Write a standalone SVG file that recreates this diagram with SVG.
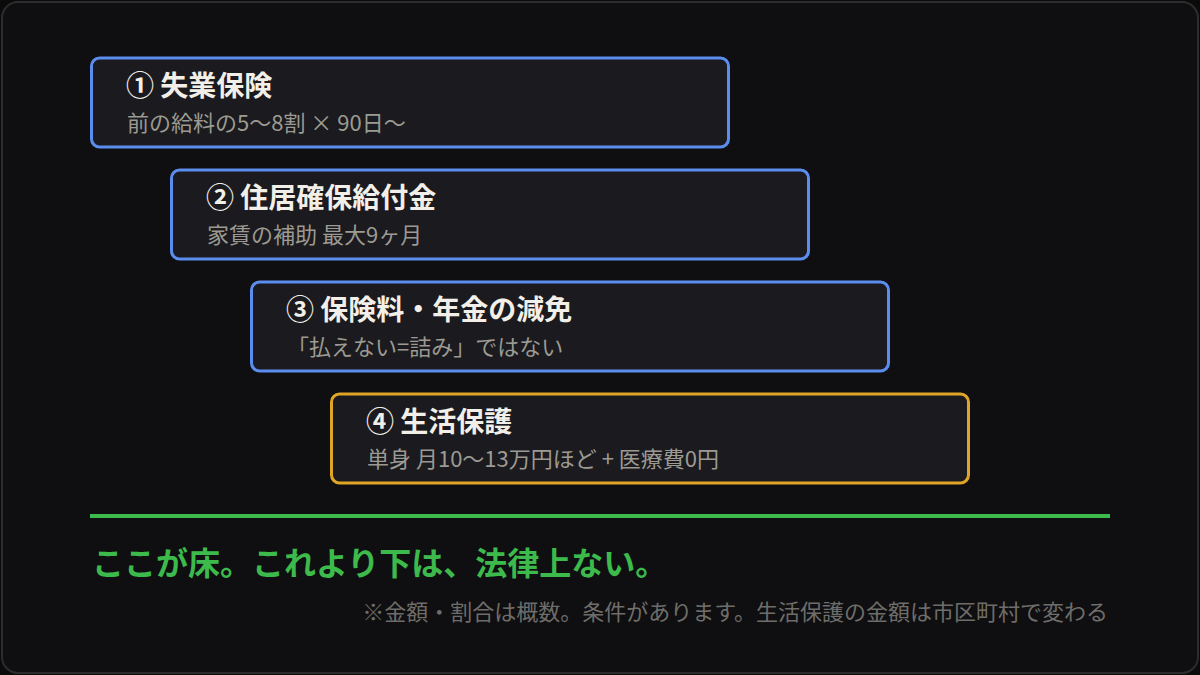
<svg xmlns="http://www.w3.org/2000/svg" width="1200" height="675" viewBox="0 0 1200 675">
<style>
text{font-family:"Noto Sans CJK JP","Noto Sans",sans-serif}
.box{fill:#1a1a1f;stroke-width:3}
.blue{stroke:#5b8def}
.gold{stroke:#e0a526}
.t{font-size:28px;font-weight:700;fill:#f2efe8}
.s{font-size:22px;fill:#9c9a92}
</style>
<rect x="0" y="0" width="1200" height="675" fill="#0b0b0c"/>
<rect x="2" y="2" width="1196" height="671" rx="16" fill="#0f0f11" stroke="#2c2c2e" stroke-width="2"/>
<g id="n1">
<rect class="box blue" x="91.5" y="58" width="637" height="89" rx="8"/>
<text class="t" x="126" y="96">① 失業保険</text>
<text class="s" x="127" y="131">前の給料の5〜8割 × 90日〜</text>
</g>
<g id="n2">
<rect class="box blue" x="171.5" y="170" width="637" height="89" rx="8"/>
<text class="t" x="206" y="208">② 住居確保給付金</text>
<text class="s" x="207" y="243">家賃の補助 最大9ヶ月</text>
</g>
<g id="n3">
<rect class="box blue" x="251.5" y="282" width="637" height="89" rx="8"/>
<text class="t" x="286" y="320">③ 保険料・年金の減免</text>
<text class="s" x="287" y="355">「払えない=詰み」ではない</text>
</g>
<g id="n4">
<rect class="box gold" x="331.5" y="394" width="637" height="89" rx="8"/>
<text class="t" x="366" y="432">④ 生活保護</text>
<text class="s" x="367" y="467">単身 月10〜13万円ほど + 医療費0円</text>
</g>
<g id="connectors">
<line x1="90" y1="516" x2="1110" y2="516" stroke="#3dba4c" stroke-width="4"/>
</g>
<text x="92" y="575" font-size="32" font-weight="700" fill="#3dba4c">ここが床。これより下は、法律上ない。</text>
<text x="1108" y="620" font-size="22" fill="#6e6d6a" text-anchor="end">※金額・割合は概数。条件があります。生活保護の金額は市区町村で変わる</text>
</svg>
